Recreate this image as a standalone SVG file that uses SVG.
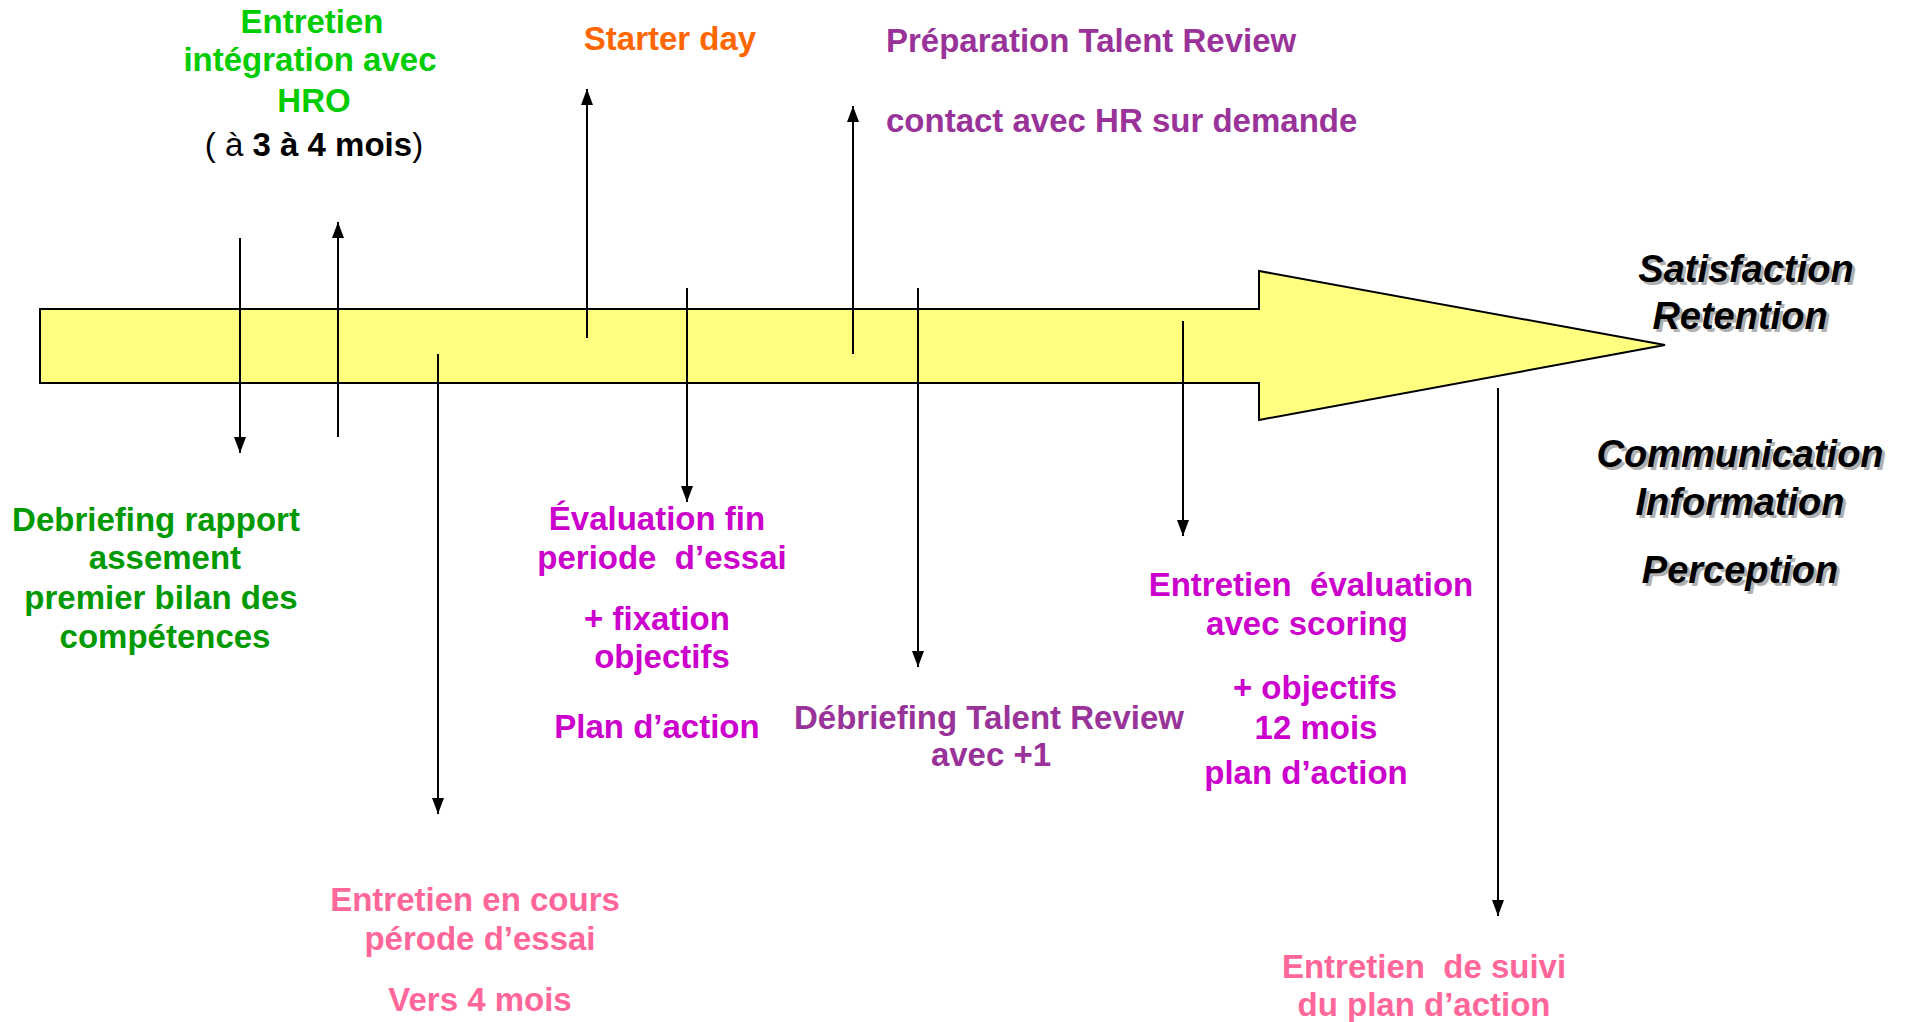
<svg xmlns="http://www.w3.org/2000/svg" width="1907" height="1022" viewBox="0 0 1907 1022">
<style>
text{font-family:"Liberation Sans",Arial,sans-serif;font-weight:bold;font-size:33px;text-anchor:middle;white-space:pre}
.g1{fill:#00CC00}.g2{fill:#009900}.or{fill:#FF6600}.pu{fill:#993399}.mg{fill:#CC00CC}.pk{fill:#FF6699}.bk{fill:#000}
.it{font-style:italic;font-size:38px}
.sh{fill:#B0B0B0}
.reg{font-weight:normal}
.ln{stroke:#000;stroke-width:2;fill:none}
</style>
<defs>
<marker id="ah" viewBox="0 0 10 10" refX="10" refY="5" markerWidth="8" markerHeight="8" markerUnits="userSpaceOnUse" orient="auto">
<path d="M0,0 L10,5 L0,10 z" fill="#000"/>
</marker>
<marker id="ah2" viewBox="0 0 16 12" refX="16" refY="6" markerWidth="16" markerHeight="12" markerUnits="userSpaceOnUse" orient="auto">
<path d="M0,0 L16,6 L0,12 z" fill="#000"/>
</marker>
</defs>
<g id="timeline">
<path d="M40,309 L1259,309 L1259,271 L1665,345 L1259,420 L1259,383 L40,383 Z" fill="#FFFF80" stroke="#000" stroke-width="2"/>
</g>
<g id="connectors">
<line class="ln" x1="240" y1="238" x2="240" y2="453" marker-end="url(#ah2)"/>
<line class="ln" x1="338" y1="437" x2="338" y2="222" marker-end="url(#ah2)"/>
<line class="ln" x1="438" y1="354" x2="438" y2="814" marker-end="url(#ah2)"/>
<line class="ln" x1="587" y1="338" x2="587" y2="89" marker-end="url(#ah2)"/>
<line class="ln" x1="687" y1="288" x2="687" y2="502" marker-end="url(#ah2)"/>
<line class="ln" x1="853" y1="354" x2="853" y2="106" marker-end="url(#ah2)"/>
<line class="ln" x1="918" y1="288" x2="918" y2="667" marker-end="url(#ah2)"/>
<line class="ln" x1="1183" y1="321" x2="1183" y2="536" marker-end="url(#ah2)"/>
<line class="ln" x1="1498" y1="388" x2="1498" y2="916" marker-end="url(#ah2)"/>
</g>
<g id="n-integration">
<text class="g1" x="312" y="33">Entretien</text>
<text class="g1" x="310" y="71">intégration avec</text>
<text class="g1" x="314" y="112">HRO</text>
<text class="bk" x="314" y="156"><tspan class="reg">( à </tspan>3 à 4 mois<tspan class="reg">)</tspan></text>
</g>
<g id="n-starter">
<text class="or" x="670" y="50">Starter day</text>
</g>
<g id="n-prep">
<text class="pu" x="886" y="52" style="text-anchor:start">Préparation Talent Review</text>
<text class="pu" x="886" y="132" style="text-anchor:start">contact avec HR sur demande</text>
</g>
<g id="n-outcomes">
<text class="it sh" x="1749" y="285">Satisfaction</text>
<text class="it bk" x="1746" y="282">Satisfaction</text>
<text class="it sh" x="1743" y="332">Retention</text>
<text class="it sh" x="1743" y="470">Communication</text>
<text class="it sh" x="1743" y="518">Information</text>
<text class="it sh" x="1743" y="586">Perception</text>
<text class="it bk" x="1740" y="329">Retention</text>
<text class="it bk" x="1740" y="467">Communication</text>
<text class="it bk" x="1740" y="515">Information</text>
<text class="it bk" x="1740" y="583">Perception</text>
</g>
<g id="n-debriefing">
<text class="g2" x="156" y="531">Debriefing rapport</text>
<text class="g2" x="165" y="569">assement</text>
<text class="g2" x="161" y="609">premier bilan des</text>
<text class="g2" x="165" y="648">compétences</text>
</g>
<g id="n-evaluation-fin">
<text class="mg" x="657" y="530">Évaluation fin</text>
<text class="mg" x="662" y="569">periode  d’essai</text>
<text class="mg" x="657" y="630">+ fixation</text>
<text class="mg" x="662" y="668">objectifs</text>
<text class="mg" x="657" y="738">Plan d’action</text>
</g>
<g id="n-en-cours">
<text class="pk" x="475" y="911">Entretien en cours</text>
<text class="pk" x="480" y="950">pérode d’essai</text>
<text class="pk" x="480" y="1011">Vers 4 mois</text>
</g>
<g id="n-debriefing-tr">
<text class="pu" x="989" y="729">Débriefing Talent Review</text>
<text class="pu" x="991" y="766">avec +1</text>
</g>
<g id="n-evaluation">
<text class="mg" x="1311" y="596">Entretien  évaluation</text>
<text class="mg" x="1307" y="635">avec scoring</text>
<text class="mg" x="1315" y="699">+ objectifs</text>
<text class="mg" x="1316" y="739">12 mois</text>
<text class="mg" x="1306" y="784">plan d’action</text>
</g>
<g id="n-suivi">
<text class="pk" x="1424" y="978">Entretien  de suivi</text>
<text class="pk" x="1424" y="1016">du plan d’action</text>
</g>
</svg>
